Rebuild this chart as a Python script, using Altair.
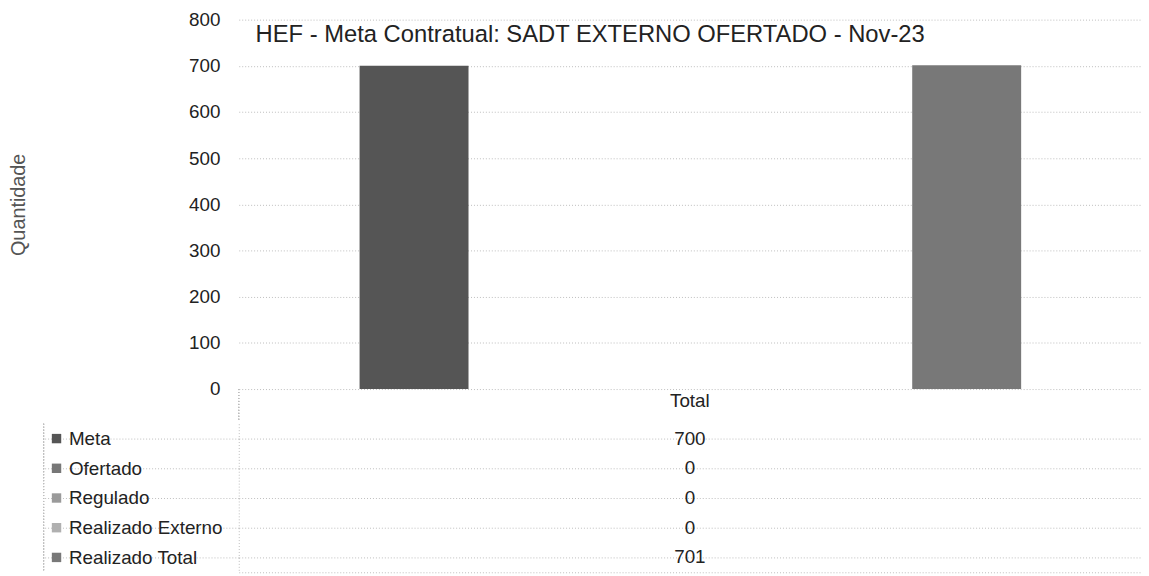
import altair as alt
import pandas as pd

category = "Total"
series = ["Meta", "Ofertado", "Regulado", "Realizado Externo", "Realizado Total"]
values = [700, 0, 0, 0, 701]
colors = ["#555555", "#777777", "#9a9a9a", "#b0b0b0", "#787878"]
y_ticks = [0, 100, 200, 300, 400, 500, 600, 700, 800]
title_text = "HEF - Meta Contratual: SADT EXTERNO OFERTADO - Nov-23"
y_title = "Quantidade"

df = pd.DataFrame({"cat": [category] * len(series), "series": series, "value": values})

FONT = "Liberation Sans"
W = 911
H = 373
ROW = 30
grid_color = "#bdbdbd"
dash = [1, 2]
txt = "#222222"

color_scale = alt.Scale(domain=series, range=colors)

bar_marks = alt.Chart(df).mark_bar().encode(
    x=alt.X(
        "cat:N",
        scale=alt.Scale(paddingInner=0, paddingOuter=0),
        axis=alt.Axis(title=None, labelAngle=0, ticks=False, domain=False,
                      labelFontSize=19, labelFont=FONT, labelColor=txt, labelPadding=3),
    ),
    xOffset=alt.XOffset("series:N", sort=series,
                        scale=alt.Scale(paddingInner=0.2115, paddingOuter=0.871, align=0.502)),
    y=alt.Y(
        "value:Q",
        scale=alt.Scale(domain=[0, 800], nice=False),
        axis=alt.Axis(values=y_ticks, title=y_title, titleFont=FONT, titleFontSize=20,
                      titleFontWeight="normal", titleColor="#555555", titlePadding=162,
                      labelFontSize=19, labelFont=FONT, labelColor=txt, labelPadding=19,
                      ticks=False, domain=False, grid=True, gridColor=grid_color,
                      gridDash=dash),
    ),
    color=alt.Color("series:N", scale=color_scale, legend=None),
)

header_divider = alt.Chart(df).mark_rule(color=grid_color, strokeDash=dash).encode(
    x=alt.value(0), y=alt.value(H), y2=alt.value(H + 33),
)

bars = alt.layer(bar_marks, header_divider).properties(
    width=W, height=H,
    title=alt.TitleParams(
        title_text, anchor="start", frame="group", offset=-37, dx=17,
        fontSize=24, font=FONT, fontWeight="normal", color=txt,
    ),
)

y_rows = alt.Y(
    "series:N", sort=series,
    scale=alt.Scale(paddingInner=0, paddingOuter=0),
    axis=alt.Axis(bandPosition=0, title=None, ticks=True, tickSize=197,
                  tickColor=grid_color, tickDash=dash, grid=True, gridColor=grid_color,
                  gridDash=dash, domain=True, domainColor=grid_color, domainDash=dash,
                  labelAlign="left", labelPadding=-25,
                  labelBaseline="middle", labelFontSize=19, labelFont=FONT,
                  labelColor=txt),
)

table_text = alt.Chart(df).mark_text(fontSize=19, font=FONT, color=txt).encode(
    x=alt.X("cat:N", scale=alt.Scale(paddingInner=0, paddingOuter=0),
            axis=alt.Axis(title=None, labels=False, ticks=False, domain=True,
                          domainColor=grid_color, domainDash=dash, orient="bottom")),
    y=y_rows,
    text=alt.Text("value:Q"),
)

keys = alt.Chart(df).mark_square(size=90, opacity=1).encode(
    x=alt.value(-184),
    y=alt.Y("series:N", sort=series),
    color=alt.Color("series:N", scale=color_scale, legend=None),
)

border = alt.Chart(df).mark_rule(color=grid_color, strokeDash=dash).encode(
    x=alt.value(-197), y=alt.value(0), y2=alt.value(ROW * len(series)),
)

table = alt.layer(border, table_text, keys).properties(
    width=W, height=ROW * len(series)
)

chart = alt.vconcat(bars, table, spacing=0).properties(
    padding={"left": 0, "top": 0, "right": 0, "bottom": 0}
).configure_view(stroke=None)

chart.save("out.html", embed_options={"renderer": "svg", "actions": False})
